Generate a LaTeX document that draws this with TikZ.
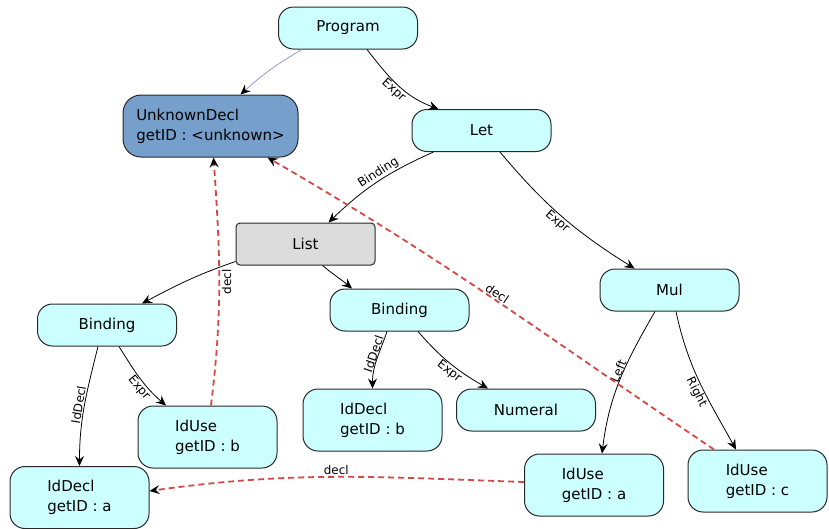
\documentclass[tikz,border=0pt]{standalone}
\usepackage{fontspec}
\setmainfont{DejaVu Sans}
\usetikzlibrary{arrows.meta}
\definecolor{cyanfill}{RGB}{204,255,255}
\definecolor{unkfill}{RGB}{118,160,203}
\definecolor{listfill}{RGB}{220,220,220}
\definecolor{declred}{RGB}{214,72,72}
\definecolor{bordergray}{RGB}{40,40,40}
\definecolor{progblue}{RGB}{150,150,220}
\begin{document}
\begin{tikzpicture}[x=1pt,y=1pt,
  astnode/.style={draw=bordergray, line width=1pt, fill=cyanfill, rounded corners=15pt,
    minimum width=139pt, minimum height=42pt, inner sep=0pt,
    font=\fontsize{15}{20}\selectfont, align=left},
  tallnode/.style={astnode, minimum height=62pt},
  listnode/.style={astnode, fill=listfill, rounded corners=4pt},
  unknode/.style={astnode, fill=unkfill, minimum width=175pt, minimum height=62pt, rounded corners=18pt},
  tip/.style={-{Stealth[length=10pt,width=9pt,inset=3.5pt,black]}},
  child/.style={tip, line width=0.8pt, black},
  ref/.style={tip, line width=1.8pt, declred, dash pattern=on 6pt off 4pt},
  lbltext/.style={font=\fontsize{12}{14}\selectfont, inner sep=1pt, text=black},
  lbl/.style={lbltext, sloped}
]
\useasboundingbox (0,0) rectangle (829,-528);

\node[astnode] (prog) at (348,-28) {Program};
\node[unknode] (unk) at (210.5,-126) {UnknownDecl\\getID : <unknown>};
\node[astnode] (let) at (481.5,-130.5) {Let};
\node[listnode] (list) at (305.5,-244) {List};
\node[astnode] (mul) at (669.5,-290) {Mul};
\node[astnode] (bindL) at (107,-325) {Binding};
\node[astnode] (bindR) at (399.5,-310) {Binding};
\node[tallnode] (useb) at (207.5,-437) {IdUse\\getID : b};
\node[tallnode] (declb) at (372.5,-420) {IdDecl\\getID : b};
\node[astnode] (num) at (526,-410) {Numeral};
\node[tallnode] (decla) at (79.5,-497.5) {IdDecl\\getID : a};
\node[tallnode] (usea) at (594,-485) {IdUse\\getID : a};
\node[tallnode] (usec) at (757.5,-481) {IdUse\\getID : c};

% tree edges
\draw[tip, line width=0.8pt, progblue] ([xshift=-46pt]prog.south) to[out=210,in=42] ([xshift=30pt]unk.north);
\draw[child] ([xshift=19pt]prog.south) to[out=-52,in=160]
  node[lbl, below, pos=0.5] {Expr} ([xshift=-43pt]let.north);
\draw[child] ([xshift=-48pt]let.south) to[out=204,in=44]
  node[lbl, above, pos=0.45] {Binding} ([xshift=23pt]list.north);
\draw[child] ([xshift=18.5pt]let.south) to[out=-50,in=148]
  node[lbl, below, pos=0.5] {Expr} ([xshift=-35pt]mul.north);
\draw[child] ([yshift=4pt]list.south west) to[out=199,in=28] ([xshift=35pt]bindL.north);
\draw[child] ([xshift=17pt]list.south) to[out=-40,in=140] ([xshift=-47.5pt]bindR.north);
\draw[child] ([xshift=-9pt]bindL.south) to[out=256,in=90]
  node[lbl, above, pos=0.5] {IdDecl} (decla.north);
\draw[child] ([xshift=12pt]bindL.south) to[out=-58,in=139]
  node[lbl, below, pos=0.6] {Expr} ([xshift=-41.5pt]useb.north);
\draw[child] ([xshift=-12.5pt]bindR.south) to[out=251,in=90]
  node[lbl, above, pos=0.42, inner sep=0pt] {IdDecl} (declb.north);
\draw[child] ([xshift=18.5pt]bindR.south) to[out=-49,in=150]
  node[lbl, below, pos=0.55] {Expr} ([xshift=-38pt]num.north);
\draw[child] ([xshift=-14.5pt]mul.south) to[out=240,in=83]
  node[lbl, above, pos=0.45, inner sep=0pt] {Left} ([xshift=8pt]usea.north);
\draw[child] ([xshift=6.5pt]mul.south) to[out=-78,in=119]
  node[lbl, below, pos=0.55] {Right} ([xshift=-21.5pt]usec.north);

% declaration references
\draw[ref] ([xshift=3.5pt]useb.north) to[out=83,in=-86]
  node[lbltext, rotate=90, anchor=north, pos=0.5, inner sep=2pt] {decl} ([xshift=3pt]unk.south);
\draw[ref] ([xshift=-43.5pt]usec.north) to[out=146,in=-30]
  node[lbl, above, pos=0.5] {decl} ([xshift=57pt]unk.south);
\draw[ref] ([yshift=3pt]usea.west) to[out=178,in=8]
  node[lbl, above, pos=0.5] {decl} ([yshift=6.5pt]decla.east);
\end{tikzpicture}
\end{document}
